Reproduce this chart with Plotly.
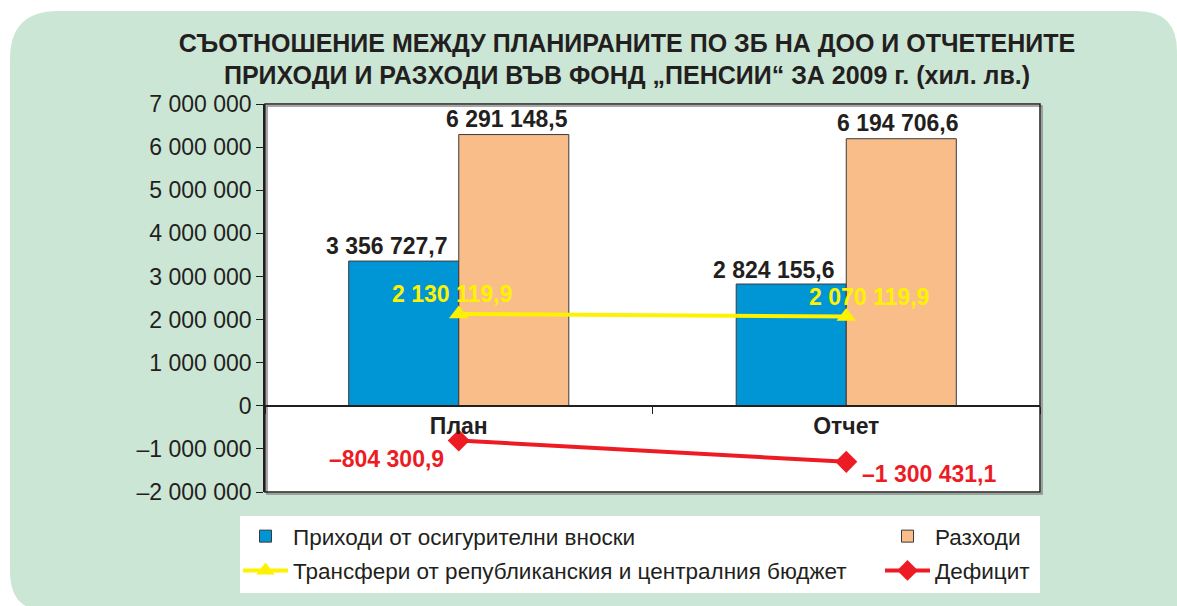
import plotly.graph_objects as go

# Data (thousand BGN)
categories = ["План", "Отчет"]
income = [3356727.7, 2824155.6]        # Приходи от осигурителни вноски
expenses = [6291148.5, 6194706.6]      # Разходи
transfers = [2130119.9, 2070119.9]     # Трансфери от бюджета
deficit = [-804300.9, -1300431.1]      # Дефицит

y_tickvals = [-2000000, -1000000, 0, 1000000, 2000000, 3000000,
              4000000, 5000000, 6000000, 7000000]


def fmt_value(v):
    s = f"{abs(v):,.1f}".replace(",", " ").replace(".", ",")
    return ("–" if v < 0 else "") + s


def fmt_tick(v):
    s = f"{abs(v):,}".replace(",", " ")
    return ("–" if v < 0 else "") + s


y_ticktext = [fmt_tick(v) for v in y_tickvals]

# Canvas geometry
W, H = 1177, 606
ML, MR, MT, MB = 265, 137, 104, 114
PW, PH = W - ML - MR, H - MT - MB


def px(x):
    return (x - ML) / PW


def py(y):
    return (H - MB - y) / PH


FONT = "Liberation Sans, Arial, Helvetica, sans-serif"
DARK = "#231f20"
BLUE = "#0096d6"
PEACH = "#f8bd88"
YELLOW = "#fff200"
RED = "#ed1c24"
PANEL = "#cce6d5"
LABEL_SIZE = 23

fig = go.Figure()

fig.add_trace(go.Bar(
    x=categories, y=income, name="Приходи от осигурителни вноски",
    marker=dict(color=BLUE, line=dict(color="#3a3a3a", width=1)),
    legend="legend", legendgroup="g1",
))
fig.add_trace(go.Bar(
    x=categories, y=expenses, name="Разходи",
    marker=dict(color=PEACH, line=dict(color="#3a3a3a", width=1)),
    legend="legend2", legendgroup="g2",
))
fig.add_trace(go.Scatter(
    x=categories, y=transfers, name="Трансфери от републиканския и централния бюджет",
    mode="lines+markers",
    line=dict(color=YELLOW, width=4),
    marker=dict(symbol="triangle-up", size=17, color=YELLOW),
    cliponaxis=False, legend="legend", legendgroup="g3",
))
fig.add_trace(go.Scatter(
    x=categories, y=deficit, name="Дефицит",
    mode="lines+markers",
    line=dict(color=RED, width=4),
    marker=dict(symbol="diamond", size=17, color=RED),
    cliponaxis=False, legend="legend2", legendgroup="g4",
))

# Value labels, anchored at each data point and offset in pixels
annotations = []


def add_labels(values, color, xshifts, yshifts):
    for cat, v, dx, dy in zip(categories, values, xshifts, yshifts):
        annotations.append(dict(
            x=cat, y=v, xref="x", yref="y", text=fmt_value(v), showarrow=False,
            xshift=dx, yshift=dy, xanchor="center", yanchor="middle",
            font=dict(family=FONT, size=LABEL_SIZE, color=color, weight="bold"),
        ))


add_labels(income, DARK, [-72, -72], [15, 14])
add_labels(expenses, DARK, [48, 52], [16, 16])
add_labels(transfers, YELLOW, [-7, 23], [20, 20])
add_labels(deficit, RED, [-72, 83], [-19, -12])

# Rounded green panel behind the chart
r_tl, r_tr, r_bl = 48, 40, 34
x0, y0, x1, y1 = 10, 11, 1177, 605
panel_path = (
    f"M {px(x0 + r_tl)},{py(y0)} "
    f"L {px(x1 - r_tr)},{py(y0)} "
    f"Q {px(x1)},{py(y0)} {px(x1)},{py(y0 + r_tr)} "
    f"L {px(x1 + 5)},{py(y0 + r_tr)} L {px(x1 + 5)},{py(y1 + 5)} "
    f"L {px(x0 + r_bl)},{py(y1 + 5)} "
    f"Q {px(x0)},{py(y1 + 5)} {px(x0)},{py(y1 - r_bl)} "
    f"L {px(x0)},{py(y0 + r_tl)} "
    f"Q {px(x0)},{py(y0)} {px(x0 + r_tl)},{py(y0)} Z"
)

shapes = [
    dict(type="path", xref="paper", yref="paper", path=panel_path,
         fillcolor=PANEL, line=dict(width=0), layer="below"),
    # plot area
    dict(type="rect", xref="paper", yref="paper", x0=0, x1=1, y0=0, y1=1,
         fillcolor="white", line=dict(width=0), layer="below"),
    # legend box
    dict(type="rect", xref="paper", yref="paper",
         x0=px(240), x1=px(1040), y0=py(593), y1=py(516),
         fillcolor="white", line=dict(width=0), layer="below"),
    # plot frame shadow and frame
    dict(type="rect", xref="paper", yref="paper",
         x0=px(267), x1=px(1042), y0=py(494), y1=py(106),
         fillcolor="rgba(0,0,0,0)", line=dict(color="#8a8a8a", width=1.5), layer="below"),
    dict(type="rect", xref="paper", yref="paper", x0=0, x1=1, y0=0, y1=1,
         fillcolor="rgba(0,0,0,0)", line=dict(color=DARK, width=1.5), layer="above"),
]

fig.update_layout(
    width=W, height=H,
    margin=dict(l=ML, r=MR, t=MT, b=MB),
    paper_bgcolor="white", plot_bgcolor="white",
    font=dict(family=FONT, color=DARK),
    barmode="group", bargap=0.432, bargroupgap=0,
    title=dict(
        text="СЪОТНОШЕНИЕ МЕЖДУ ПЛАНИРАНИТЕ ПО ЗБ НА ДОО И ОТЧЕТЕНИТЕ<br>"
             "ПРИХОДИ И РАЗХОДИ ВЪВ ФОНД „ПЕНСИИ“ ЗА 2009 г. (хил. лв.)",
        x=0.5327, xanchor="center", xref="container",
        y=0.915, yanchor="top", yref="container",
        font=dict(family=FONT, size=25, color=DARK, weight="bold"),
    ),
    xaxis=dict(
        type="category", anchor="free", position=2 / 9,
        showline=True, linecolor=DARK, linewidth=1.5,
        ticks="outside", tickson="boundaries", ticklen=7, tickcolor=DARK,
        tickfont=dict(family=FONT, size=23, color=DARK, weight="bold"),
        showgrid=False, zeroline=False,
    ),
    yaxis=dict(
        range=[-2000000, 7000000], tickmode="array",
        tickvals=y_tickvals, ticktext=y_ticktext,
        ticks="outside", ticklen=7, tickcolor=DARK,
        showline=True, linecolor=DARK, linewidth=1.5,
        tickfont=dict(family=FONT, size=23, color=DARK),
        showgrid=False, zeroline=False,
    ),
    yaxis2=dict(
        overlaying="y", anchor="x", matches="y", side="left",
        range=[-2000000, 7000000], tickmode="array", tickvals=y_tickvals,
        ticks="inside", ticklen=6, tickcolor=DARK, showticklabels=False,
        showline=False, showgrid=False, zeroline=False,
    ),
    legend=dict(
        x=px(238), y=py(515), xanchor="left", yanchor="top",
        bgcolor="rgba(0,0,0,0)", font=dict(family=FONT, size=22.5, color=DARK),
        tracegroupgap=2, itemwidth=45, orientation="v",
    ),
    legend2=dict(
        x=px(880), y=py(515), xanchor="left", yanchor="top",
        bgcolor="rgba(0,0,0,0)", font=dict(family=FONT, size=22.5, color=DARK),
        tracegroupgap=2, itemwidth=45, orientation="v",
    ),
    annotations=annotations,
    shapes=shapes,
)

fig.write_html("out.html")
